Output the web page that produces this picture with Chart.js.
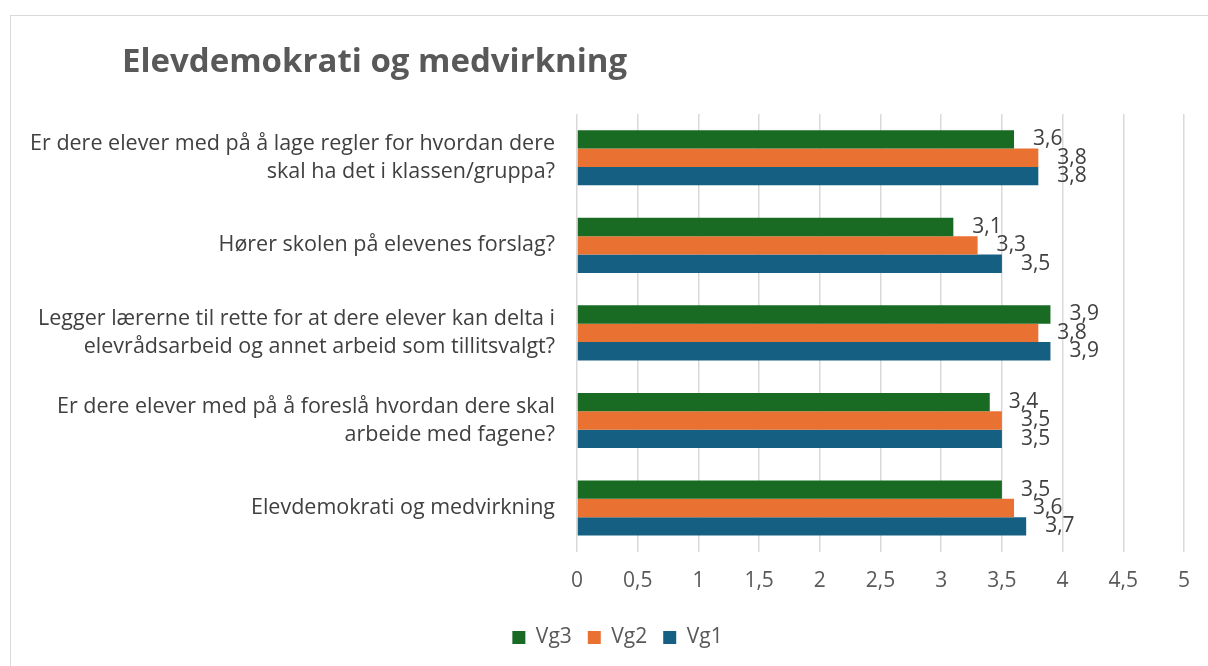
<!DOCTYPE html>
<html>
<head>
<meta charset="utf-8">
<script src="https://cdn.jsdelivr.net/npm/chart.js@4/dist/chart.umd.min.js"></script>
<style>
  body { margin: 0; background: #fff; }
  #frame { position: absolute; left: 10px; top: 15px; width: 1210px; height: 660px; border: 1px solid #d9d9d9; }
  #wrap { position: absolute; left: 0; top: 0; width: 1197px; height: 650px; }
</style>
</head>
<body>
<div id="frame"><div id="wrap"><canvas id="myChart"></canvas></div></div>
<script>
// chart data
var chartTitle = 'Elevdemokrati og medvirkning';
var categories = [
  ['Er dere elever med på å lage regler for hvordan dere', 'skal ha det i klassen/gruppa?'],
  ['Hører skolen på elevenes forslag?'],
  ['Legger lærerne til rette for at dere elever kan delta i', 'elevrådsarbeid og annet arbeid som tillitsvalgt?'],
  ['Er dere elever med på å foreslå hvordan dere skal', 'arbeide med fagene?'],
  ['Elevdemokrati og medvirkning']
];
var seriesNames = ['Vg3', 'Vg2', 'Vg1'];
var vg3 = [3.6, 3.1, 3.9, 3.4, 3.5];
var vg2 = [3.8, 3.3, 3.8, 3.5, 3.6];
var vg1 = [3.8, 3.5, 3.9, 3.5, 3.7];
var xTicks = [0, 0.5, 1, 1.5, 2, 2.5, 3, 3.5, 4, 4.5, 5];

var colors = ['#196B24', '#E97132', '#156082'];
var font = "'Open Sans', sans-serif";

function comma(v) { return String(v).replace('.', ','); }

var titlePlugin = {
  id: 'titleText',
  afterDraw: function(chart) {
    var ctx = chart.ctx;
    ctx.save();
    ctx.font = 'bold 33px ' + font;
    ctx.fillStyle = '#595959';
    ctx.textBaseline = 'middle';
    ctx.textAlign = 'left';
    ctx.fillText(chartTitle, 111, 47);
    ctx.restore();
  }
};

// nudge the legend a little to the right, like the original
var legendShift = {
  id: 'legendShift',
  afterLayout: function(chart) {
    chart.legend.left += 11;
    chart.legend.right += 11;
  }
};

var valueLabels = {
  id: 'valueLabels',
  afterDatasetsDraw: function(chart) {
    var ctx = chart.ctx;
    ctx.save();
    ctx.font = '21px ' + font;
    ctx.fillStyle = '#404040';
    ctx.textBaseline = 'middle';
    ctx.textAlign = 'left';
    chart.data.datasets.forEach(function(ds, i) {
      chart.getDatasetMeta(i).data.forEach(function(bar, j) {
        ctx.fillText(comma(ds.data[j]), bar.x + 19, bar.y);
      });
    });
    ctx.restore();
  }
};

var dataSource = {
  labels: categories,
  datasets: [
    { label: seriesNames[0], data: vg3, backgroundColor: colors[0] },
    { label: seriesNames[1], data: vg2, backgroundColor: colors[1] },
    { label: seriesNames[2], data: vg1, backgroundColor: colors[2] }
  ]
};

var ctx = document.getElementById('myChart').getContext('2d');
var myChart = new Chart(ctx, {
  type: 'bar',
  data: dataSource,
  plugins: [titlePlugin, valueLabels, legendShift],
  options: {
    indexAxis: 'y',
    responsive: true,
    maintainAspectRatio: false,
    animation: false,
    datasets: { bar: { categoryPercentage: 0.63, barPercentage: 1.0 } },
    layout: { padding: { top: 98, right: 24, bottom: 8, left: 18 } },
    plugins: {
      title: { display: false },
      tooltip: { enabled: false },
      legend: {
        position: 'bottom',
        labels: {
          boxWidth: 13, boxHeight: 13, padding: 16,
          color: '#595959',
          font: { family: font, size: 21 }
        }
      }
    },
    scales: {
      x: {
        min: 0, max: 5,
        afterBuildTicks: function(axis) { axis.ticks = xTicks.map(function(v) { return { value: v }; }); },
        grid: { color: '#d9d9d9', lineWidth: 1.5, drawTicks: false },
        border: { display: false },
        ticks: {
          padding: 17,
          color: '#595959',
          font: { family: font, size: 21 },
          callback: function(v) { return comma(v); }
        }
      },
      y: {
        grid: { display: false, drawTicks: false },
        border: { display: false },
        afterFit: function(axis) { axis.width = 548; },
        ticks: {
          padding: 22,
          color: '#404040',
          font: { family: font, size: 21.5, lineHeight: 1.3 }
        }
      }
    }
  }
});
</script>
</body>
</html>
